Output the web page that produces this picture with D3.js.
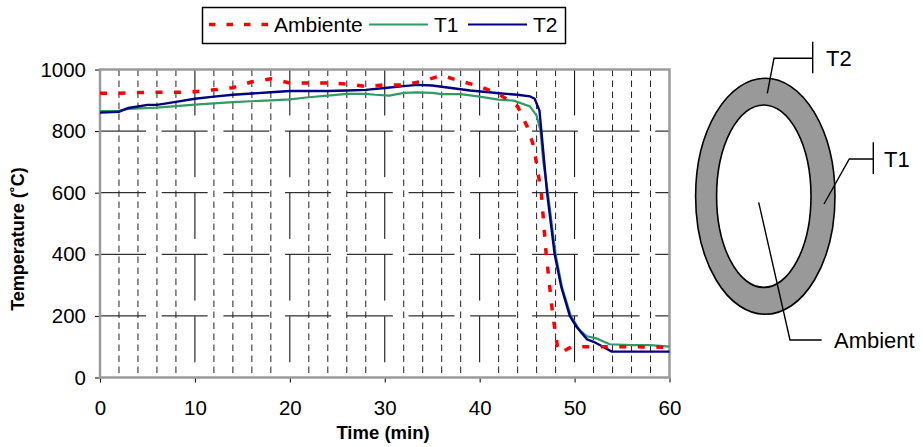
<!DOCTYPE html>
<html>
<head>
<meta charset="utf-8">
<script src="https://cdn.jsdelivr.net/npm/d3@7"></script>
<style>
    body { margin: 0; background: #fff; }
    svg text { font-family: "Liberation Sans", Arial, Helvetica, sans-serif; fill: #000; }
</style>
</head>
<body>
<svg id="chart" width="923" height="447"></svg>
<script>
// Series data (time in minutes, temperature in degC)
const timeAmbiente = [0, 2, 4, 6, 8, 10, 12, 14, 16, 18, 20, 22, 24, 26, 28, 30, 32, 34, 36, 38, 40, 42, 44, 45, 45.7, 46.5, 47, 47.7, 48.2, 48.5, 49.7, 52, 54, 56, 58, 60];
const ambiente     = [923, 923, 925, 926, 926, 928, 934, 941, 960, 970, 956, 956, 956, 953, 945, 950, 950, 962, 981, 962, 945, 921, 880, 815, 750, 597, 403, 203, 100, 80, 100, 100, 100, 100, 99, 98];

const timeT1 = [0, 2, 3, 6, 10, 14, 18, 20, 22, 24, 26, 28, 29, 30.5, 32, 33.4, 35, 36, 38, 40, 42, 43.6, 45.3, 46, 46.4, 46.7, 47.2, 48, 48.7, 49.6, 50.3, 50.6, 51.3, 52.3, 53.7, 56, 58, 60];
const t1     = [865, 866, 872, 876, 886, 894, 900, 903, 910, 915, 921, 921, 918, 915, 924, 926, 924, 920, 920, 912, 902, 899, 880, 850, 802, 700, 597, 400, 290, 200, 165, 152, 134, 127, 108, 105, 105, 100];

const timeT2 = [0, 2, 3, 4, 5, 6, 8, 10, 12, 14, 16, 18, 20, 22, 24, 26, 28, 30, 32, 33.4, 35, 37, 39, 41, 42, 44, 45.3, 45.8, 46.3, 46.5, 47.1, 47.9, 48.6, 49.5, 50.2, 51.3, 52, 53, 53.9, 56, 58, 60];
const t2     = [860, 863, 875, 880, 885, 885, 895, 905, 912, 918, 922, 926, 930, 930, 930, 932, 934, 940, 946, 950, 948, 940, 932, 926, 923, 918, 913, 905, 867, 800, 600, 400, 294, 200, 165, 124, 116, 100, 84, 84, 84, 84];

// Axes and grid
const xTicks = [0, 10, 20, 30, 40, 50, 60];
const yTicks = [0, 200, 400, 600, 800, 1000];
const majorTimeGrid = [10, 20, 30, 40, 50];
const minorTimeGrid = [2, 4, 6, 8, 12, 14, 16, 18, 22, 24, 26, 28, 32, 34, 36, 38, 42, 44, 46, 48, 52, 54, 56, 58];
const tempGrid = [200, 400, 600, 800];

// Legend
const seriesNames = ["Ambiente", "T1", "T2"];
const seriesColors = ["#ff0000", "#339966", "#000080"];

const svg = d3.select("#chart");

const x = d3.scaleLinear().domain([0, 60]).range([100, 669.5]);
const y = d3.scaleLinear().domain([0, 1000]).range([377.5, 69.5]);

// Grid lines
const grid = svg.append("g");

grid.selectAll("line.hgrid")
    .data(tempGrid)
    .join("line")
    .attr("class", "hgrid")
    .attr("x1", x(0)).attr("x2", x(60))
    .attr("y1", d => y(d)).attr("y2", d => y(d))
    .attr("stroke", "#000")
    .attr("stroke-width", 1)
    .attr("stroke-dasharray", "46,15.7");

grid.selectAll("line.vmajor")
    .data(majorTimeGrid)
    .join("line")
    .attr("class", "vmajor")
    .attr("x1", d => x(d)).attr("x2", d => x(d))
    .attr("y1", y(1000)).attr("y2", y(0))
    .attr("stroke", "#000")
    .attr("stroke-width", 1)
    .attr("stroke-dasharray", "46,15.7");

grid.selectAll("line.vminor")
    .data(minorTimeGrid)
    .join("line")
    .attr("class", "vminor")
    .attr("x1", d => x(d)).attr("x2", d => x(d))
    .attr("y1", y(1000)).attr("y2", y(0))
    .attr("stroke", "#222")
    .attr("stroke-width", 1)
    .attr("stroke-dasharray", "6.5,4.5");

// Axes
const yAxis = svg.append("g")
    .attr("transform", `translate(${x(0)},0)`)
    .call(d3.axisLeft(y).tickValues(yTicks).tickSize(5).tickPadding(9).tickFormat(d3.format("d")));

const xAxis = svg.append("g")
    .attr("transform", `translate(0,${y(0)})`)
    .call(d3.axisBottom(x).tickValues(xTicks).tickSize(5).tickPadding(18));

[xAxis, yAxis].forEach(ax => {
    ax.select(".domain").remove();
    ax.selectAll(".tick line").attr("stroke", "#000").attr("stroke-width", 1);
    ax.selectAll(".tick text").attr("font-size", 20.5).attr("font-family", "Liberation Sans, Arial, sans-serif");
});

// Plot border
svg.append("rect")
    .attr("x", x(0)).attr("y", y(1000))
    .attr("width", x(60) - x(0))
    .attr("height", y(0) - y(1000))
    .attr("fill", "none")
    .attr("stroke", "#9a9a9a")
    .attr("stroke-width", 2.5);

// Series lines
const line = d3.line()
    .x(d => x(d[0]))
    .y(d => y(d[1]));

svg.append("path")
    .datum(d3.zip(timeT1, t1))
    .attr("d", line)
    .attr("fill", "none")
    .attr("stroke", seriesColors[1])
    .attr("stroke-width", 2.2);

svg.append("path")
    .datum(d3.zip(timeT2, t2))
    .attr("d", line)
    .attr("fill", "none")
    .attr("stroke", seriesColors[2])
    .attr("stroke-width", 2.4);

svg.append("path")
    .datum(d3.zip(timeAmbiente, ambiente))
    .attr("d", line)
    .attr("fill", "none")
    .attr("stroke", seriesColors[0])
    .attr("stroke-width", 3.5)
    .attr("stroke-dasharray", "7,11.5");

// Axis titles
svg.append("text")
    .attr("x", 383)
    .attr("y", 439)
    .attr("text-anchor", "middle")
    .attr("font-size", 18.5)
    .attr("font-weight", "bold")
    .text("Time (min)");

svg.append("text")
    .attr("transform", "translate(24,239) rotate(-90)")
    .attr("text-anchor", "middle")
    .attr("font-size", 18)
    .attr("font-weight", "bold")
    .text("Temperature (˚C)");

// Legend
const legend = svg.append("g");
legend.append("rect")
    .attr("x", 202.5).attr("y", 7.5)
    .attr("width", 363).attr("height", 36)
    .attr("fill", "#fff")
    .attr("stroke", "#000")
    .attr("stroke-width", 1.5);

const legendX = [209, 369, 468];
seriesNames.forEach((name, i) => {
    legend.append("line")
        .attr("x1", legendX[i]).attr("x2", legendX[i] + 59)
        .attr("y1", 24.5).attr("y2", 24.5)
        .attr("stroke", seriesColors[i])
        .attr("stroke-width", i === 0 ? 3.5 : 2.2)
        .attr("stroke-dasharray", i === 0 ? "6.5,11" : null);
    legend.append("text")
        .attr("x", legendX[i] + 65)
        .attr("y", 32)
        .attr("font-size", 21)
        .text(name);
});

// Cross-section sketch on the right
const sketch = svg.append("g");
sketch.append("ellipse")
    .attr("cx", 765.3).attr("cy", 196.3)
    .attr("rx", 69.7).attr("ry", 118)
    .attr("fill", "#999")
    .attr("stroke", "#000")
    .attr("stroke-width", 1.6);
sketch.append("ellipse")
    .attr("cx", 763.8).attr("cy", 196.2)
    .attr("rx", 47.2).attr("ry", 91.2)
    .attr("fill", "#fff")
    .attr("stroke", "#000")
    .attr("stroke-width", 1.6);

const leaders = [
    { pts: [[767.3, 93.3], [774, 58.3], [812.7, 58.3]], bar: [812.7, 41.7, 73.3], label: "T2", tx: 826, ty: 66 },
    { pts: [[824, 204], [849.3, 159], [873.3, 159]], bar: [873.3, 142.3, 174], label: "T1", tx: 884, ty: 166.5 },
    { pts: [[758.7, 202.3], [790, 340], [821.7, 340]], bar: null, label: "Ambient", tx: 834, ty: 347.5 }
];

leaders.forEach(l => {
    sketch.append("path")
        .attr("d", d3.line()(l.pts))
        .attr("fill", "none")
        .attr("stroke", "#000")
        .attr("stroke-width", 1.4);
    if (l.bar) {
        sketch.append("line")
            .attr("x1", l.bar[0]).attr("x2", l.bar[0])
            .attr("y1", l.bar[1]).attr("y2", l.bar[2])
            .attr("stroke", "#000")
            .attr("stroke-width", 1.4);
    }
    sketch.append("text")
        .attr("x", l.tx)
        .attr("y", l.ty)
        .attr("font-size", 22)
        .text(l.label);
});
</script>
</body>
</html>
